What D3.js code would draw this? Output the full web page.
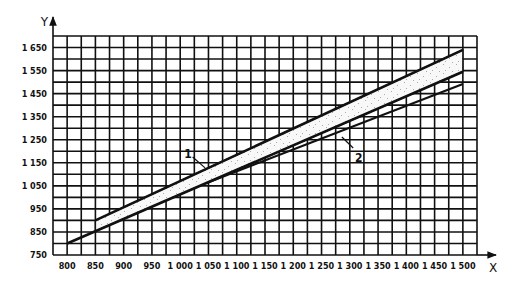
<!DOCTYPE html>
<html>
<head>
<meta charset="utf-8">
<script src="https://cdn.jsdelivr.net/npm/d3@7"></script>
<style>
  body { margin: 0; background: #fff; }
  .tick-label { font-family: "DejaVu Sans Condensed", "DejaVu Sans", sans-serif; font-weight: bold; font-size: 9px; fill: #111; }
  .axis-name { font-family: "DejaVu Sans", sans-serif; font-size: 12px; fill: #111; }
  .curve-label { font-family: "DejaVu Sans Condensed", "DejaVu Sans", sans-serif; font-weight: bold; font-size: 12px; fill: #111; }
</style>
</head>
<body>
<div id="chart"></div>
<script>
var width = 531;
var height = 288;

// tick labels
var xTicks = [800, 850, 900, 950, 1000, 1050, 1100, 1150, 1200, 1250, 1300, 1350, 1400, 1450, 1500];
var yTicks = [750, 850, 950, 1050, 1150, 1250, 1350, 1450, 1550, 1650];

// the shaded band (upper edge = curve 1)
var bandX = [850, 1500];
var bandTop = [900, 1640];
var bandBottom = [853, 1545];

// lower edge of the band, starts further left
var lowerX = [800, 1500];
var lowerY = [800, 1545];

// curve 2
var line2X = [1050, 1500];
var line2Y = [1066, 1492];

// curve labels: text position, leader start, leader tip (data units)
var labels = [
  {name: "1", lx: 1014, ly: 1171, sx: 1022, sy: 1175, tx: 1044, ty: 1128},
  {name: "2", lx: 1316, ly: 1153, sx: 1306, sy: 1214, tx: 1286, ty: 1262}
];

// grid spacing in data units
var gridX = d3.range(775, 1526, 25);
var gridY = d3.range(750, 1701, 50);

var x = d3.scaleLinear().domain([775, 1525]).range([53, 477]);
var y = d3.scaleLinear().domain([750, 1700]).range([255, 36]);

var svg = d3.select("#chart")
  .append("svg")
  .attr("width", width)
  .attr("height", height);

var defs = svg.append("defs");
var pat = defs.append("pattern")
  .attr("id", "stipple")
  .attr("patternUnits", "userSpaceOnUse")
  .attr("width", 13)
  .attr("height", 9);
pat.append("rect").attr("width", 13).attr("height", 9).attr("fill", "#f8f8f8");
[[1, 1], [7, 4], [3, 7], [10, 8]].forEach(function(p) {
  pat.append("rect").attr("x", p[0]).attr("y", p[1]).attr("width", 0.9).attr("height", 0.9).attr("fill", "#9a9a9a");
});

// grid
svg.append("g")
  .selectAll("line")
  .data(gridX)
  .enter()
  .append("line")
  .attr("x1", function(d) { return x(d); })
  .attr("x2", function(d) { return x(d); })
  .attr("y1", y(750))
  .attr("y2", y(1700))
  .attr("stroke", "#111")
  .attr("stroke-width", 1.6);

svg.append("g")
  .selectAll("line")
  .data(gridY)
  .enter()
  .append("line")
  .attr("x1", x(775))
  .attr("x2", x(1525))
  .attr("y1", function(d) { return y(d); })
  .attr("y2", function(d) { return y(d); })
  .attr("stroke", "#111")
  .attr("stroke-width", 1.6);

// axes arrows
defs.append("marker")
  .attr("id", "arrow")
  .attr("viewBox", "0 0 10 10")
  .attr("refX", 9)
  .attr("refY", 5)
  .attr("markerWidth", 6)
  .attr("markerHeight", 6)
  .attr("orient", "auto")
  .append("path")
  .attr("d", "M0,1 L10,5 L0,9 Z")
  .attr("fill", "#111");

svg.append("line")
  .attr("x1", x(775)).attr("x2", x(775))
  .attr("y1", y(1700)).attr("y2", y(1700) - 19)
  .attr("stroke", "#111").attr("stroke-width", 1.6)
  .attr("marker-end", "url(#arrow)");

svg.append("line")
  .attr("x1", x(1525)).attr("x2", x(1525) + 19)
  .attr("y1", y(750)).attr("y2", y(750))
  .attr("stroke", "#111").attr("stroke-width", 1.6)
  .attr("marker-end", "url(#arrow)");

svg.append("text").attr("class", "axis-name")
  .attr("x", x(775) - 5).attr("y", y(1700) - 10)
  .attr("text-anchor", "end")
  .text("Y");

svg.append("text").attr("class", "axis-name")
  .attr("x", x(1525) + 16).attr("y", y(750) + 17)
  .attr("text-anchor", "middle")
  .text("X");

// tick labels, thousands with a space
var fmt = function(d) { return d3.format(",")(d).replace(",", " "); };

svg.append("g")
  .selectAll("text")
  .data(yTicks)
  .enter()
  .append("text")
  .attr("class", "tick-label")
  .attr("x", x(775) - 6)
  .attr("y", function(d) { return y(d); })
  .attr("dy", "0.35em")
  .attr("text-anchor", "end")
  .text(fmt);

svg.append("g")
  .selectAll("text")
  .data(xTicks)
  .enter()
  .append("text")
  .attr("class", "tick-label")
  .attr("x", function(d) { return x(d); })
  .attr("y", y(750) + 14)
  .attr("text-anchor", "middle")
  .text(fmt);

// band
var bandData = bandX.map(function(d, i) { return {x: d, top: bandTop[i], bottom: bandBottom[i]}; });
var area = d3.area()
  .x(function(d) { return x(d.x); })
  .y0(function(d) { return y(d.bottom); })
  .y1(function(d) { return y(d.top); });

svg.append("path")
  .datum(bandData)
  .attr("d", area)
  .attr("fill", "url(#stipple)")
  .attr("stroke", "#111")
  .attr("stroke-width", 1.4);

var line = d3.line()
  .x(function(d) { return x(d[0]); })
  .y(function(d) { return y(d[1]); });

// curve 1 (upper edge)
svg.append("path")
  .attr("d", line(bandX.map(function(d, i) { return [d, bandTop[i]]; })))
  .attr("fill", "none").attr("stroke", "#111").attr("stroke-width", 2.6);

// lower edge
svg.append("path")
  .attr("d", line(lowerX.map(function(d, i) { return [d, lowerY[i]]; })))
  .attr("fill", "none").attr("stroke", "#111").attr("stroke-width", 2.6);

// curve 2
svg.append("path")
  .attr("d", line(line2X.map(function(d, i) { return [d, line2Y[i]]; })))
  .attr("fill", "none").attr("stroke", "#111").attr("stroke-width", 2.2);

// labels and leaders
labels.forEach(function(l) {
  svg.append("line")
    .attr("x1", x(l.sx)).attr("y1", y(l.sy))
    .attr("x2", x(l.tx)).attr("y2", y(l.ty))
    .attr("stroke", "#111").attr("stroke-width", 1.2);
  svg.append("text").attr("class", "curve-label")
    .attr("x", x(l.lx)).attr("y", y(l.ly))
    .attr("text-anchor", "middle")
    .text(l.name);
});
</script>
</body>
</html>
